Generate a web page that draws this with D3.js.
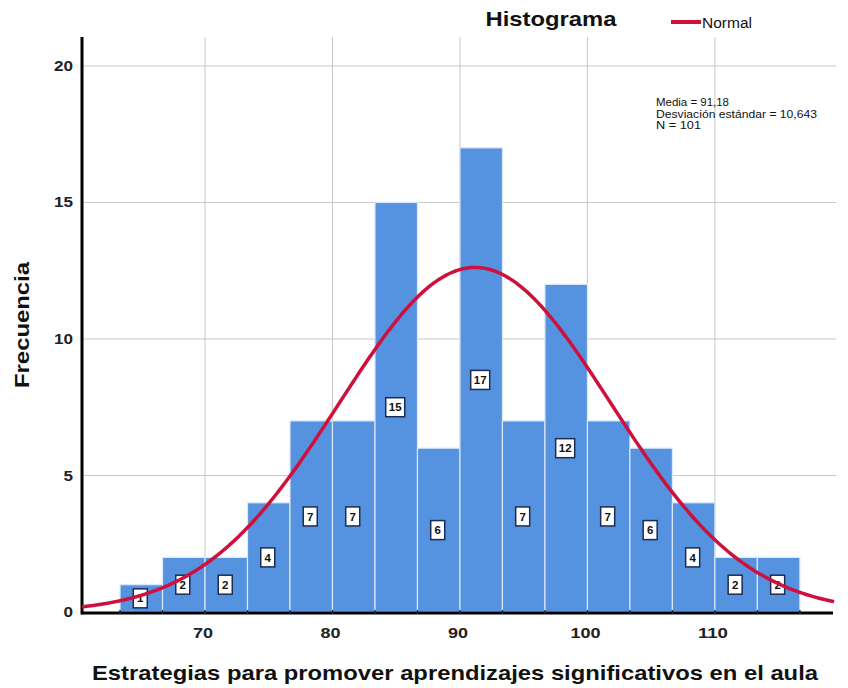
<!DOCTYPE html>
<html>
<head>
<meta charset="utf-8">
<script src="https://cdn.jsdelivr.net/npm/d3@7"></script>
<style>
html,body{margin:0;padding:0;background:#fff;}
svg{display:block;font-family:"Liberation Sans",Arial,sans-serif;}
</style>
</head>
<body>
<svg id="chart" width="848" height="688"></svg>
<script>
// ---- data ----
const binStart = 63.3333;
const binWidth = 10 / 3;
const counts = [1, 2, 2, 4, 7, 7, 15, 6, 17, 7, 12, 7, 6, 4, 2, 2];
const xTicks = [70, 80, 90, 100, 110];
const yTicks = [0, 5, 10, 15, 20];
const statsLines = ["Media = 91,18", "Desviación estándar = 10,643", "N = 101"];
const mean = 91.18, sd = 10.643, nTotal = 101;

const svg = d3.select("#chart");
const x = d3.scaleLinear().domain([60.35, 119.5]).range([82, 836]);
const y = d3.scaleLinear().domain([0, 21.06]).range([612, 37]);

// gridlines
svg.append("g").selectAll("line").data(yTicks.filter(d => d > 0)).join("line")
  .attr("x1", x.range()[0]).attr("x2", x.range()[1])
  .attr("y1", d => y(d)).attr("y2", d => y(d))
  .attr("stroke", "#c8c8c8").attr("stroke-width", 1);
svg.append("g").selectAll("line").data(xTicks).join("line")
  .attr("x1", d => x(d)).attr("x2", d => x(d))
  .attr("y1", y.range()[1]).attr("y2", y(0))
  .attr("stroke", "#c8c8c8").attr("stroke-width", 1);

// bars
const bins = counts.map((c, i) => ({x0: binStart + i * binWidth, x1: binStart + (i + 1) * binWidth, c}));
svg.append("g").selectAll("rect").data(bins).join("rect")
  .attr("x", d => x(d.x0)).attr("width", d => x(d.x1) - x(d.x0))
  .attr("y", d => y(d.c)).attr("height", d => y(0) - y(d.c))
  .attr("fill", "#5592e0").attr("stroke", "#dbe8f8").attr("stroke-width", 1.2);

// axes lines
svg.append("line").attr("x1", x.range()[0]).attr("x2", x.range()[1] - 3)
  .attr("y1", y(0) + 1).attr("y2", y(0) + 1).attr("stroke", "#000").attr("stroke-width", 3);
svg.append("line").attr("x1", x.range()[0]).attr("x2", x.range()[0])
  .attr("y1", y.range()[1]).attr("y2", y(0) + 2.5).attr("stroke", "#000").attr("stroke-width", 3);
// bar edge ticks
svg.append("g").selectAll("line").data(bins.map(d => d.x0).concat([bins[bins.length-1].x1])).join("line")
  .attr("x1", d => x(d)).attr("x2", d => x(d))
  .attr("y1", y(0) - 2).attr("y2", y(0) + 2)
  .attr("stroke", "#1a2a4a").attr("stroke-width", 1.5);

// labels in bars
const lab = svg.append("g").selectAll("g").data(bins).join("g")
  .attr("transform", d => `translate(${(x(d.x0) + x(d.x1)) / 2 - 1},${y(d.c / 2)})`);
lab.append("rect").attr("x", d => d.c >= 10 ? -9.5 : -7).attr("y", -9.5)
  .attr("width", d => d.c >= 10 ? 19 : 14).attr("height", 19)
  .attr("fill", "#fff").attr("stroke", "#1c2c50").attr("stroke-width", 1.5);
lab.append("text").attr("text-anchor", "middle").attr("dy", "0.36em")
  .attr("font-size", 11.5).attr("font-weight", "bold").attr("fill", "#111")
  .text(d => d.c);

// normal curve
const curveScale = nTotal * binWidth / (sd * Math.sqrt(2 * Math.PI));
const xs = d3.range(x.domain()[0], x.domain()[1] + 0.01, 0.25);
svg.append("path").datum(xs)
  .attr("d", d3.line().x(v => x(v)).y(v => y(curveScale * Math.exp(-0.5 * ((v - mean) / sd) ** 2))))
  .attr("fill", "none").attr("stroke", "#d0103c").attr("stroke-width", 3.5);

// tick labels
svg.append("g").selectAll("text").data(yTicks).join("text")
  .attr("x", 73).attr("y", d => y(d)).attr("dy", "0.36em").attr("text-anchor", "end")
  .attr("font-size", 14).attr("font-weight", "bold").attr("fill", "#222")
  .attr("textLength", d => String(d).length * 9.5).attr("lengthAdjust", "spacingAndGlyphs").text(d => d);
svg.append("g").selectAll("text").data(xTicks).join("text")
  .attr("x", d => x(d) - 2).attr("y", 638).attr("text-anchor", "middle")
  .attr("font-size", 14).attr("font-weight", "bold").attr("fill", "#222")
  .attr("textLength", d => String(d).length * 10).attr("lengthAdjust", "spacingAndGlyphs").text(d => d);

// axis titles
svg.append("text").attr("transform", "translate(29,325) rotate(-90)").attr("text-anchor", "middle")
  .attr("font-size", 21).attr("font-weight", "bold").attr("fill", "#111")
  .attr("textLength", 126).attr("lengthAdjust", "spacingAndGlyphs").text("Frecuencia");
svg.append("text").attr("x", 455).attr("y", 680).attr("text-anchor", "middle")
  .attr("font-size", 21).attr("font-weight", "bold").attr("fill", "#111")
  .attr("textLength", 726).attr("lengthAdjust", "spacingAndGlyphs")
  .text("Estrategias para promover aprendizajes significativos en el aula");

// title and legend
svg.append("text").attr("x", 551).attr("y", 26).attr("text-anchor", "middle")
  .attr("font-size", 21).attr("font-weight", "bold").attr("fill", "#111")
  .attr("textLength", 131).attr("lengthAdjust", "spacingAndGlyphs").text("Histograma");
svg.append("line").attr("x1", 671).attr("x2", 701).attr("y1", 22).attr("y2", 22)
  .attr("stroke", "#d0103c").attr("stroke-width", 4);
svg.append("text").attr("x", 702).attr("y", 28).attr("font-size", 14).attr("fill", "#111")
  .attr("textLength", 50).attr("lengthAdjust", "spacingAndGlyphs").text("Normal");

// stats text
const statW = [73, 161, 45];
svg.append("g").selectAll("text").data(statsLines).join("text")
  .attr("x", 656).attr("y", (d, i) => 106 + i * 11.5)
  .attr("font-size", 10.5).attr("fill", "#111")
  .attr("textLength", (d, i) => statW[i]).attr("lengthAdjust", "spacingAndGlyphs").text(d => d);
</script>
</body>
</html>
